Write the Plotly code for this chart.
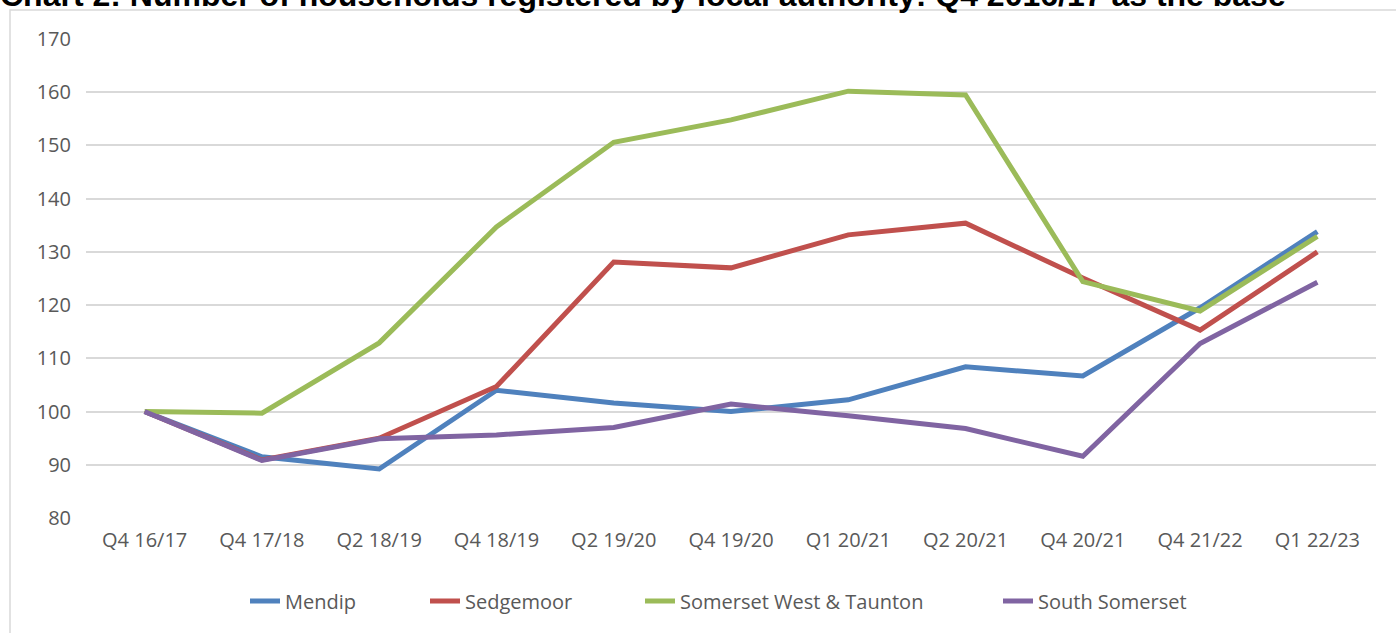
import plotly.graph_objects as go

categories = ["Q4 16/17", "Q4 17/18", "Q2 18/19", "Q4 18/19", "Q2 19/20", "Q4 19/20",
              "Q1 20/21", "Q2 20/21", "Q4 20/21", "Q4 21/22", "Q1 22/23"]
mendip = [100, 91.5, 89.2, 104.0, 101.6, 100.0, 102.2, 108.4, 106.7, 119.5, 133.8]
sedgemoor = [100, 90.9, 95.0, 104.7, 128.1, 127.0, 133.2, 135.4, 125.1, 115.3, 130.0]
swt = [100, 99.7, 112.9, 134.7, 150.6, 154.8, 160.2, 159.5, 124.4, 118.9, 132.9]
south_somerset = [100, 90.8, 94.9, 95.6, 97.0, 101.4, 99.2, 96.8, 91.6, 112.8, 124.3]

series = [
    ("Mendip", mendip, "#4F81BD"),
    ("Sedgemoor", sedgemoor, "#C0504D"),
    ("Somerset West & Taunton", swt, "#9BBB59"),
    ("South Somerset", south_somerset, "#8064A2"),
]

W, H = 1396, 633
L, T = 86, 39
R = W - 1376
B = H - 518
pw, ph = W - L - R, H - T - B

# legend left positions (px)
leg_x = [245, 425, 640, 998]
leg_names = ["legend", "legend2", "legend3", "legend4"]

fig = go.Figure()
for (name, vals, col), lg in zip(series, leg_names):
    fig.add_trace(go.Scatter(x=categories, y=vals, mode="lines", name=name, legend=lg,
                             line=dict(color=col, width=5)))

legend_common = dict(orientation="h", y=1 - (601 - T) / ph, yanchor="middle",
                     xanchor="left", font=dict(size=20, color="#595959"),
                     bgcolor="rgba(0,0,0,0)")
layout_legends = {}
for lg, px in zip(leg_names, leg_x):
    layout_legends[lg] = dict(x=(px - L) / pw, **legend_common)

fig.update_layout(
    width=W, height=H,
    margin=dict(l=L, r=R, t=T, b=B),
    plot_bgcolor="white", paper_bgcolor="white",
    font=dict(family="Open Sans", size=20, color="#595959"),
    showlegend=True,
    title=dict(text="<b>Chart 2: Number of households registered by local authority: Q4 2016/17 as the base</b>",
               x=0, xref="container", xanchor="left",
               y=1 - 6 / H, yref="container", yanchor="bottom",
               pad=dict(l=0, r=0, t=0, b=0),
               font=dict(family="Liberation Sans", size=32, color="black")),
    xaxis=dict(type="category", range=[-0.5, 10.5], showgrid=False, zeroline=False,
               showline=False, ticks="", ticklabelstandoff=8,
               tickfont=dict(size=20, color="#595959")),
    yaxis=dict(range=[80, 170], dtick=10, showgrid=True, gridcolor="#D9D9D9", gridwidth=1.5,
               zeroline=False, showline=False, ticks="", ticklabelstandoff=14,
               tickfont=dict(size=20, color="#595959")),
    **layout_legends,
)

fig.add_shape(type="rect", xref="paper", yref="paper",
              x0=(10 - L) / pw, x1=(W + 10 - L) / pw,
              y0=1 - (H + 10 - T) / ph, y1=1 + (T - 10) / ph,
              line=dict(color="#D9D9D9", width=1.5), fillcolor="rgba(0,0,0,0)", layer="below")

fig.write_html("out.html", config={"displayModeBar": False},
               post_script="document.body.style.margin='0';")
